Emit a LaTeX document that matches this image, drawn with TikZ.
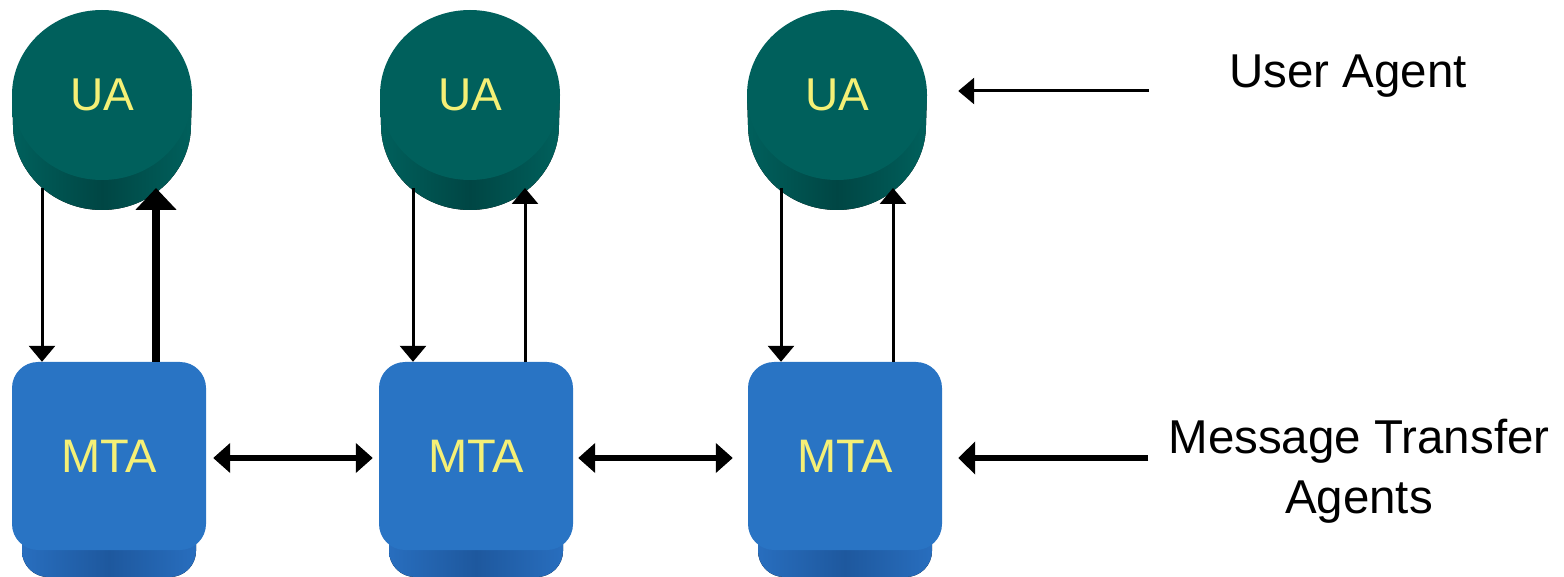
\documentclass[tikz,border=0pt]{standalone}
\usepackage{fontspec}
\setmainfont{Liberation Sans}
\usetikzlibrary{arrows.meta,calc,shapes.geometric}
\definecolor{uateal}{RGB}{0,96,92}
\definecolor{uadark}{RGB}{0,70,68}
\definecolor{uatxt}{RGB}{245,240,118}
\definecolor{mtablue}{RGB}{41,116,196}
\definecolor{mtaband}{RGB}{30,88,158}
\definecolor{mtabandl}{RGB}{40,110,190}
\tikzset{
  uatop/.style={ellipse, fill=uateal, minimum width=180pt, minimum height=170pt, inner sep=0pt,
    text=uatxt, font=\fontsize{46}{54}\selectfont},
  mtabox/.style={rectangle, rounded corners=26pt, fill=mtablue, minimum width=194pt, minimum height=188pt,
    inner sep=0pt, text=uatxt, font=\fontsize{47}{54}\selectfont},
  lbl/.style={font=\fontsize{47.5}{60}\selectfont, text=black, align=center, inner sep=0pt},
  thinarr/.style={line width=3pt, -{Triangle[width=26pt,length=16pt]}},
  thickarr/.style={line width=8pt, -{Triangle[width=40pt,length=22pt]}},
  dblarr/.style={line width=6.5pt, {Triangle[width=29pt,length=17pt]}-{Triangle[width=29pt,length=17pt]}},
  lblarr/.style={line width=6pt, -{Triangle[width=32pt,length=17pt]}},
}
\newcommand\UAside[1]{%
  \fill[left color=uateal, right color=uateal, middle color=uadark]
    (#1-90,95) -- (#1-89,125) arc[start angle=180, end angle=0, x radius=89, y radius=85]
    -- (#1+90,95) -- cycle;}
\newcommand\MTAband[1]{%
  \fill[left color=mtabandl, right color=mtabandl, middle color=mtaband, rounded corners=26pt]
    (#1-87,470) rectangle (#1+87,577);}
\begin{document}
\begin{tikzpicture}[x=1pt, y=-1pt]
\useasboundingbox (0,0) rectangle (1564,577);
% UA shapes
\UAside{102}
\UAside{470}
\UAside{837}
\node[uatop] (ua1) at (102,95) {UA};
\node[uatop] (ua2) at (470,95) {UA};
\node[uatop] (ua3) at (837,95) {UA};
% MTA shapes
\MTAband{109}
\MTAband{476}
\MTAband{845}
\node[mtabox] (mta1) at (109,456) {MTA};
\node[mtabox] (mta2) at (476,456) {MTA};
\node[mtabox] (mta3) at (845,456) {MTA};
% attachment points on the UA bottoms
\coordinate (d1) at ($(ua1.center)+(-60,93)$);
\coordinate (u1) at ($(ua1.center)+(54,93)$);
\coordinate (d2) at ($(ua2.center)+(-57,93)$);
\coordinate (u2) at ($(ua2.center)+(55,93)$);
\coordinate (d3) at ($(ua3.center)+(-56,93)$);
\coordinate (u3) at ($(ua3.center)+(56,93)$);
% vertical connectors
\draw[thinarr] (d1) -- (d1 |- mta1.north);
\draw[thickarr] (u1 |- mta1.north) -- (u1);
\draw[thinarr] (d2) -- (d2 |- mta2.north);
\draw[thinarr] (u2 |- mta2.north) -- (u2);
\draw[thinarr] (d3) -- (d3 |- mta3.north);
\draw[thinarr] (u3 |- mta3.north) -- (u3);
% horizontal connectors
\draw[dblarr] ($(mta1.east)+(7,2)$) -- ($(mta2.west)+(-6,2)$);
\draw[dblarr] ($(mta2.east)+(5,2)$) -- ($(mta3.west)+(-15,2)$);
% labels
\node[lbl] (lua) at (1348,76) {User Agent};
\node[lbl] (lmta) at (1359,471) {Message Transfer\\Agents};
\coordinate (uatip) at ($(ua3.east)+(31,-4)$);
\draw[thinarr] ($(lua.west |- uatip)+(-80,0)$) -- (uatip);
\coordinate (mtatip) at ($(mta3.east)+(16,2)$);
\draw[lblarr] ($(lmta.west |- mtatip)+(-20,0)$) -- (mtatip);
\end{tikzpicture}
\end{document}
